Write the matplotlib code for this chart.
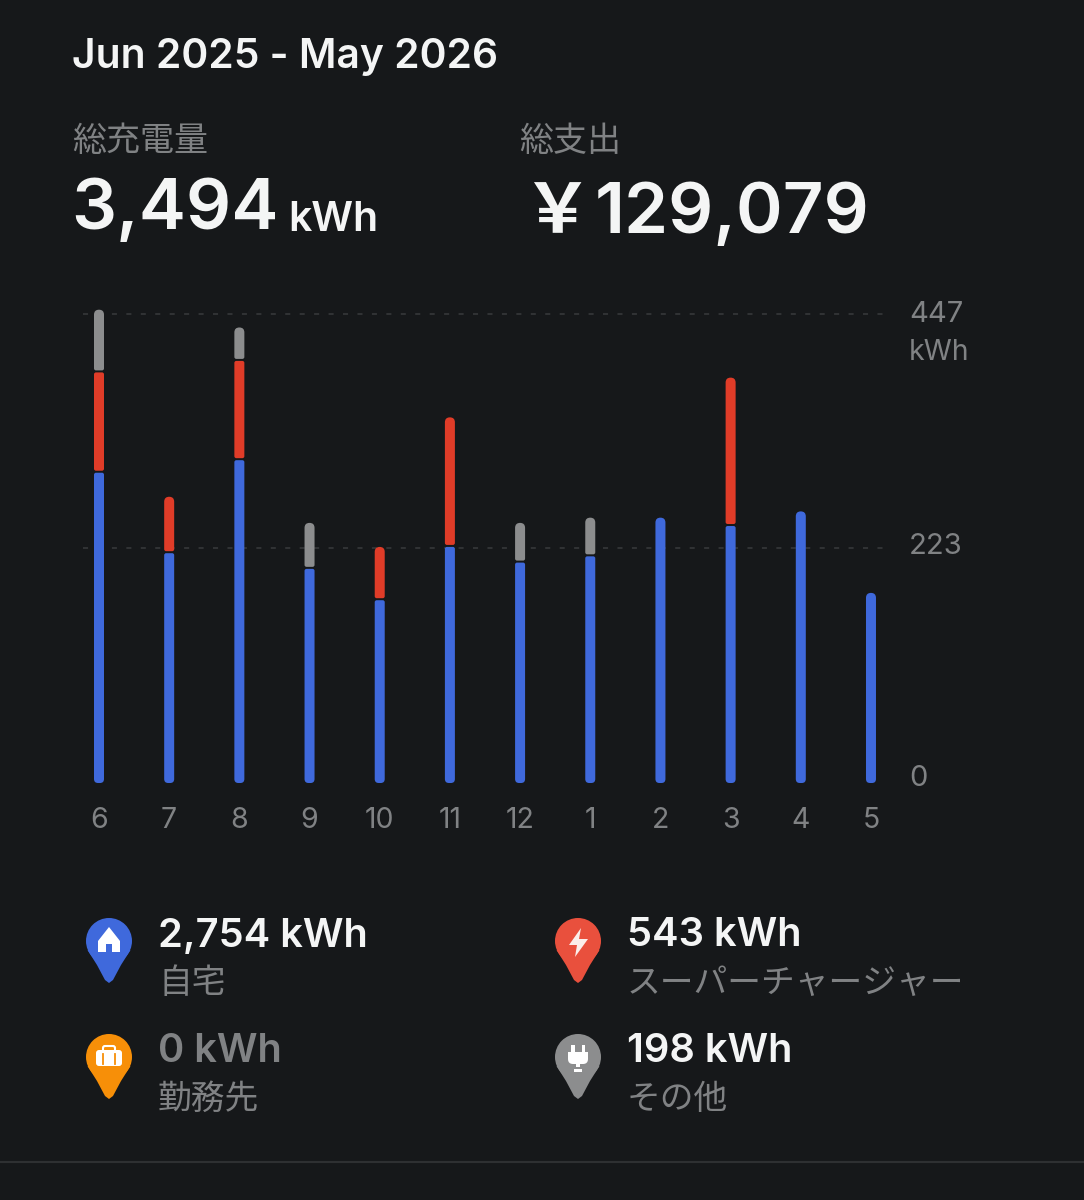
import matplotlib
matplotlib.use('Agg')
import matplotlib.pyplot as plt
from matplotlib.patches import FancyBboxPatch, Circle, Polygon, Rectangle, PathPatch
from matplotlib.path import Path

W, H = 1084, 1200
BG = '#16181a'
LATIN = ['Inter', 'Noto Sans CJK JP', 'DejaVu Sans']
JP = ['Noto Sans CJK JP', 'DejaVu Sans']

months = ['6', '7', '8', '9', '10', '11', '12', '1', '2', '3', '4', '5']
home = [295, 218, 307, 203, 173, 224, 209, 215, 252, 244, 258, 180]
supercharger = [96, 54, 95, 0, 51, 124, 0, 0, 0, 142, 0, 0]
other = [60, 0, 32, 44, 0, 0, 38, 37, 0, 0, 0, 0]
y_ticks = [0, 223, 447]

BLUE = '#3f69dc'
RED = '#e03c28'
GRAY = '#8c8d8e'
ORANGE = '#f78f08'
MUTED = '#808284'
WHITE = '#f4f5f5'

PX_X = 70.18  # px per bar
PX_Y = 1.045  # px per kWh
X0 = 99
Y0 = 781

fig = plt.figure(figsize=(W / 100, H / 100), dpi=100, facecolor=BG)

# overlay in pixel coords for text and icons
ov = fig.add_axes([0, 0, 1, 1])
ov.set_xlim(0, W)
ov.set_ylim(H, 0)
ov.axis('off')

# chart
left, right, top = 83, 885, 300
ax = fig.add_axes([left / W, (H - Y0) / H, (right - left) / W, (Y0 - top) / H])
ax.set_facecolor('none')
ax.set_xlim((left - X0) / PX_X, (right - X0) / PX_X)
ax.set_ylim(0, (Y0 - top) / PX_Y)
for s in ax.spines.values():
    s.set_visible(False)
ax.set_yticks([])
ax.set_xticks(range(len(months)))
ax.set_xticklabels(months, color=MUTED, fontsize=20.5, family=LATIN)
ax.tick_params(axis='x', length=0, pad=19)

for v in y_ticks[1:]:
    ax.axhline(v, color='#333537', lw=1.3, dashes=(2.8, 5.2), zorder=1)


def seg(x, y0, y1, color, r_bottom, r_top):
    # rounded bar piece, radii in px
    hw = 5 / PX_X
    bx, by = r_bottom / PX_X, r_bottom / PX_Y
    tx, ty = r_top / PX_X, r_top / PX_Y
    verts = [(x - hw, y0 + by), (x - hw, y1 - ty), (x - hw, y1), (x - hw + tx, y1),
             (x + hw - tx, y1), (x + hw, y1), (x + hw, y1 - ty),
             (x + hw, y0 + by), (x + hw, y0), (x + hw - bx, y0),
             (x - hw + bx, y0), (x - hw, y0), (x - hw, y0 + by), (x - hw, y0 + by)]
    codes = [Path.MOVETO, Path.LINETO, Path.CURVE3, Path.CURVE3,
             Path.LINETO, Path.CURVE3, Path.CURVE3,
             Path.LINETO, Path.CURVE3, Path.CURVE3,
             Path.LINETO, Path.CURVE3, Path.CURVE3, Path.CLOSEPOLY]
    ax.add_patch(PathPatch(Path(verts, codes), fc=color, ec='none', zorder=3, clip_on=False))


gap = 2 / PX_Y
for i in range(len(months)):
    stack = [(home[i], BLUE), (supercharger[i], RED), (other[i], GRAY)]
    stack = [s for s in stack if s[0] > 0]
    base = 0
    for j, (val, col) in enumerate(stack):
        y0 = base + gap if j else -2 / PX_Y
        r_top = 5 if j == len(stack) - 1 else 2
        r_bottom = 2 if j else 4
        seg(i, y0, base + val, col, r_bottom, r_top)
        base += val

# y labels
ov.text(909, 314, str(y_ticks[2]), color=MUTED, fontsize=21, family=LATIN, va='center')
ov.text(909, 353, 'kWh', color=MUTED, fontsize=20.5, family=LATIN, va='center')
ov.text(909, 546, str(y_ticks[1]), color=MUTED, fontsize=21, family=LATIN, va='center')
ov.text(909, 778, str(y_ticks[0]), color=MUTED, fontsize=21, family=LATIN, va='center')

# header
ov.text(72, 57, 'Jun 2025 - May 2026', color=WHITE, fontsize=29.4, family=LATIN, weight='semibold', va='center')
ov.text(72, 141, '総充電量', color=MUTED, fontsize=24.5, family=JP, va='center')
ov.text(519, 141, '総支出', color=MUTED, fontsize=24.5, family=JP, va='center')
ov.text(71, 210, '3,494', color=WHITE, fontsize=51, family=LATIN, weight='semibold', va='center')
ov.text(288, 220, 'kWh', color=WHITE, fontsize=29.5, family=LATIN, weight='semibold', va='center')
ov.text(557, 213, '\uffe5', color=WHITE, fontsize=50, family=JP, weight='bold', va='center', ha='center')
ov.text(595, 214, '129,079', color=WHITE, fontsize=51, family=LATIN, weight='semibold', va='center')


# pins
def pin(cx, cy, color):
    ov.add_patch(Circle((cx, cy), 23, fc=color, ec='none'))
    ov.add_patch(Polygon([(cx - 21.5, cy + 9), (cx - 12, cy + 24), (cx - 4, cy + 39), (cx, cy + 42), (cx + 4, cy + 39),
                          (cx + 12, cy + 24), (cx + 21.5, cy + 9)],
                         closed=True, fc=color, ec='none'))


pin(109, 941, BLUE)
ov.add_patch(Polygon([(98, 941), (109, 927), (120, 941), (120, 952), (112, 952), (112, 944), (106, 944), (106, 952), (98, 952)],
                     closed=True, fc='white', ec='none'))

pin(109, 1057, ORANGE)
ov.add_patch(FancyBboxPatch((96, 1050), 26, 16, boxstyle='round,pad=0,rounding_size=3', fc='white', ec='none'))
ov.add_patch(FancyBboxPatch((103, 1046), 12, 6, boxstyle='round,pad=0,rounding_size=2', fc='none', ec='white', lw=1.5))
ov.plot([103, 103], [1054, 1064], color=ORANGE, lw=1.3)
ov.plot([115, 115], [1054, 1064], color=ORANGE, lw=1.3)

pin(578, 941, '#e9503d')
ov.add_patch(Polygon([(581, 928), (569, 945), (577, 945), (575, 957), (588, 939), (579, 939)],
                     closed=True, fc='#fbeeea', ec='none'))

pin(578, 1057, GRAY)
ov.add_patch(FancyBboxPatch((568, 1052), 20, 12, boxstyle='round,pad=0,rounding_size=5', fc='white', ec='none'))
ov.add_patch(Rectangle((568, 1052), 20, 6, fc='white', ec='none'))
ov.add_patch(Rectangle((571, 1045), 3.5, 8, fc='white', ec='none'))
ov.add_patch(Rectangle((581.5, 1045), 3.5, 8, fc='white', ec='none'))
ov.add_patch(Rectangle((574, 1069), 8, 3, fc='white', ec='none'))
ov.add_patch(Rectangle((576, 1063), 4, 4, fc='white', ec='none'))

# legend text
legend_vals = ['2,754 kWh', '0 kWh', '543 kWh', '198 kWh']
legend_names = ['自宅', '勤務先', 'スーパーチャージャー', 'その他']
legend_pos = [(158, 936), (158, 1052), (627, 936), (627, 1052)]
legend_cols = [WHITE, MUTED, WHITE, WHITE]
for v, n, (x, y), c in zip(legend_vals, legend_names, legend_pos, legend_cols):
    ov.text(x, y, v, color=c, fontsize=28.7, family=LATIN, weight='semibold', va='center')
    ov.text(x, y + 47, n, color=MUTED, fontsize=24.3, family=JP, va='center')

ov.plot([0, W], [1162, 1162], color='#2e3032', lw=1.5)

fig.savefig('out.png', dpi=100, facecolor=BG)
